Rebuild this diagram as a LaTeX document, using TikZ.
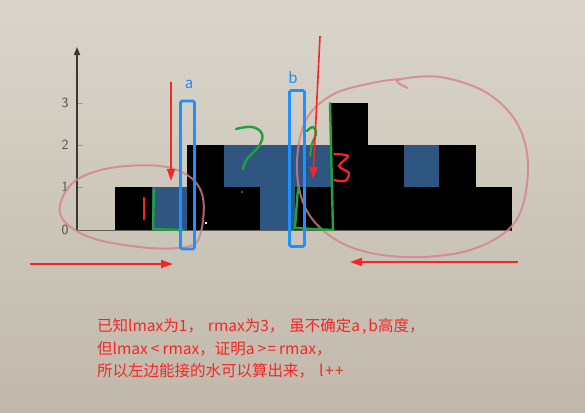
\documentclass[tikz,border=0pt]{standalone}
\usepackage{fontspec}
\newfontfamily\cjk{Noto Sans CJK SC}
\usetikzlibrary{arrows.meta}
\definecolor{bgtop}{RGB}{218,213,203}
\definecolor{bgbot}{RGB}{192,185,171}
\definecolor{water}{RGB}{46,86,128}
\definecolor{boxblue}{RGB}{30,144,255}
\definecolor{pen}{RGB}{246,38,38}
\definecolor{greenpen}{RGB}{34,160,60}
\definecolor{pinkpen}{RGB}{214,128,140}
\definecolor{axisgray}{RGB}{58,54,48}
\tikzset{
  bar/.style={fill=black, draw=black, line width=0.6pt},
  wat/.style={fill=water},
  selbox/.style={draw=boxblue, line width=2.6pt, rounded corners=1.5pt},
  redarrow/.style={draw=pen, line width=1.6pt, -{Triangle[length=12pt,width=8pt]}},
  greenstroke/.style={draw=greenpen, line width=2.4pt, line cap=round, line join=round},
  pinkstroke/.style={draw=pinkpen, line width=2pt, opacity=0.8},
  redstroke/.style={draw=pen, line width=2.2pt, line cap=round, line join=round},
  ticklabel/.style={text=axisgray!90, font=\sffamily\fontsize{14}{14}\selectfont},
  note/.style={anchor=west, text=pen, font=\cjk\fontsize{15.5}{18}\selectfont, inner sep=0pt},
  boxlabel/.style={text=boxblue, font=\cjk\fontsize{15}{15}\selectfont, inner sep=0pt}
}
\begin{document}
\begin{tikzpicture}[x=1pt,y=-1pt]
\useasboundingbox (0,0) rectangle (585,412);
\shade[top color=bgtop, bottom color=bgbot] (0,0) rectangle (585,412);
% water
\fill[wat] (151,187) rectangle (187,230);
\fill[wat] (223,145) rectangle (295,187);
\fill[wat] (259,187) rectangle (295,230);
\fill[wat] (295,145) rectangle (331,187);
\fill[wat] (403,145) rectangle (439,187);
% bars
\path[bar] (115,187) rectangle (151,230);
\path[bar] (187,145) rectangle (223,230);
\path[bar] (223,187) rectangle (259,230);
\path[bar] (295,187) rectangle (331,230);
\path[bar] (331,103) rectangle (367,230);
\path[bar] (367,145) rectangle (403,230);
\path[bar] (403,187) rectangle (439,230);
\path[bar] (439,145) rectangle (475,230);
\path[bar] (475,187) rectangle (511,230);
% axes
\coordinate (o) at (77,230);
\coordinate (ytop) at (77,47);
\coordinate (xend) at (511,230);
\draw[axisgray!80, line width=1pt] (o) -- (xend);
\draw[axisgray, line width=1.6pt, -{Triangle[length=8pt,width=6pt]}] (o) -- (ytop);
\foreach \v/\y in {1/187,2/145,3/103}{
  \draw[axisgray!50, line width=0.6pt] (78,\y) -- (83,\y);
}
\node[ticklabel] (t0) at (65,230) {0};
\node[ticklabel] (t1) at (65,187) {1};
\node[ticklabel] (t2) at (65,145) {2};
\node[ticklabel] (t3) at (65,103) {3};
% pink ellipses
\draw[pinkstroke] plot[smooth cycle, tension=0.6] coordinates {(60,205) (75,181) (110,168) (160,166) (190,177) (203,198) (201,232) (190,246) (150,248) (95,239) (66,223)};
\draw[pinkstroke] plot[smooth, tension=0.6] coordinates {(408,88) (398,80) (440,77) (487,93) (518,125) (528,170) (515,222) (470,250) (405,257) (348,246) (310,216) (297,172) (305,122) (332,95) (372,83) (400,79)};
% green strokes
\draw[greenstroke] (154,189) -- (153,229) -- (183,230);
\draw[greenstroke] plot[smooth, tension=0.7] coordinates {(236,129) (252,127) (262,134) (259,146) (247,159) (243,169)};
\fill[greenpen] (242,192) circle (1.2);
\draw[greenstroke] plot[smooth, tension=0.7] coordinates {(307,131) (313,127) (316,134) (312,144) (310,156)};
\draw[greenstroke] (298,188) -- (295,228) -- (333,230) -- (330,103);
% red marks
\draw[redstroke] (144,198) -- (144,219);
\draw[redstroke] plot[smooth, tension=0.5] coordinates {(334,154) (348,156) (339,166) (349,173) (345,181) (334,180)};
% cursor
\node[draw=black, fill=white, line width=0.4pt, minimum size=3pt, inner sep=0pt] (cur) at (206,223) {};
% selection boxes
\node[selbox, minimum width=14pt, minimum height=148pt, inner sep=0pt] (boxa) at (187.5,175) {};
\node[selbox, minimum width=15pt, minimum height=156pt, inner sep=0pt] (boxb) at (297,168.5) {};
\node[boxlabel] (la) at (189,84) {a};
\node[boxlabel] (lb) at (293,78) {b};
% red arrows
\coordinate (a1s) at (171,82);
\coordinate (a1e) at (171,181);
\coordinate (a2s) at (320,36);
\coordinate (a2e) at (313,179);
\coordinate (a3s) at (30,264);
\coordinate (a3e) at (173,264);
\coordinate (a4s) at (518,262);
\coordinate (a4e) at (350,262);
\draw[redarrow] (a1s) -- (a1e);
\draw[redarrow] (a2s) -- (a2e);
\draw[redarrow] (a3s) -- (a3e);
\draw[redarrow] (a4s) -- (a4e);
% text
\node[note] (n1) at (97,326) {已知lmax为1，\kern5pt rmax为3，\kern5pt 虽不确定a\kern2pt,\kern2pt b高度，};
\node[note] (n2) at (97,349) {但lmax\kern3pt<\kern3pt rmax，证明a\kern3pt>\kern1.5pt=\kern3pt rmax，};
\node[note] (n3) at (97,371) {所以左边能接的水可以算出来，\kern5pt l\kern1.5pt+\kern1.5pt+};
\end{tikzpicture}
\end{document}
